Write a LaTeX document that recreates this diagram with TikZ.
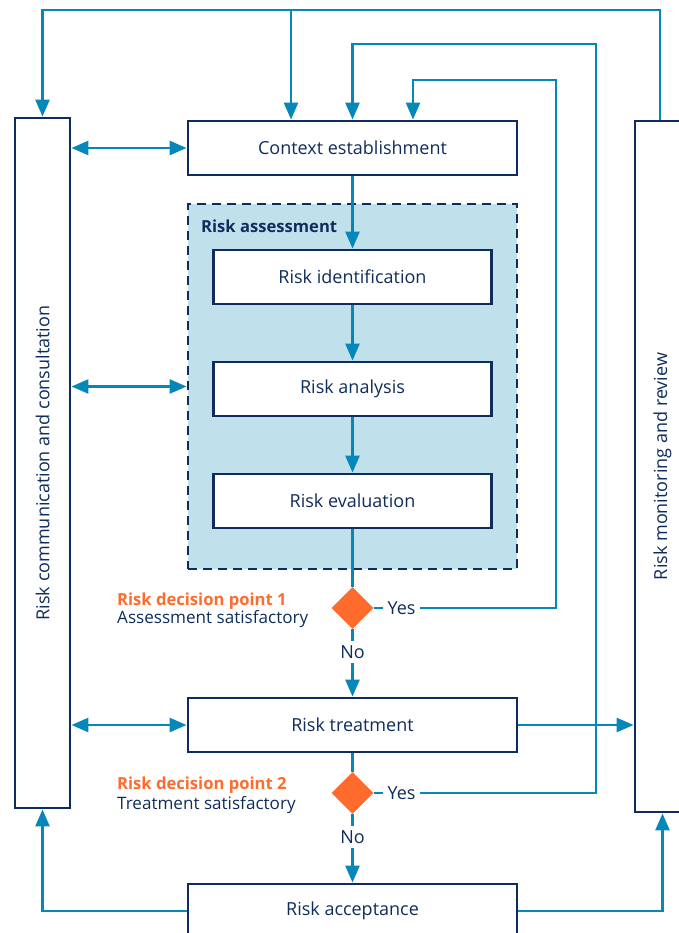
\documentclass[tikz,border=0pt]{standalone}
\usepackage{fontspec}
\setmainfont{Open Sans}
\usetikzlibrary{arrows.meta,shapes.geometric,calc}
\definecolor{navy}{HTML}{0F2D5C}
\definecolor{flowblue}{HTML}{0587B9}
\definecolor{paleblue}{HTML}{C0E0EC}
\definecolor{riskorange}{HTML}{FF6B2C}
\begin{document}
\begin{tikzpicture}[x=1pt,y=-1pt,
  txt/.style={text=navy,font=\fontsize{18}{21}\selectfont},
  smalltxt/.style={text=navy,font=\fontsize{17.1}{20}\selectfont},
  boldtxt/.style={font=\fontsize{16.6}{20}\selectfont\bfseries},
  box/.style={txt,draw=navy,line width=2.9pt,fill=white,minimum height=54pt,inner sep=0},
  wide/.style={box,minimum width=329pt},
  narrow/.style={box,minimum width=278pt},
  side/.style={draw=navy,line width=2.9pt,fill=white,minimum width=55pt,inner sep=0},
  flow/.style={draw=flowblue,line width=2.7pt},
  arr/.style={flow,-{Triangle[length=17pt,width=14pt]}},
  darr/.style={flow,{Triangle[length=17pt,width=14pt]}-{Triangle[length=17pt,width=14pt]}},
  dec/.style={diamond,fill=riskorange,minimum width=42pt,minimum height=42pt,inner sep=0},
  yn/.style={txt,fill=white,inner xsep=5pt,inner ysep=2pt},
]
\useasboundingbox (0,0) rectangle (679,933);
\clip (0,0) rectangle (679,933);

% side boxes
\node[side,minimum height=690pt] (comm) at (42.5,463) {};
\node[txt,rotate=90] (commtxt) at (comm.center) {Risk communication and consultation};
\node[side,minimum height=691pt] (mon) at (662.5,466.5) {};
\node[txt,rotate=90] (montxt) at (mon.center) {Risk monitoring and review};

% risk assessment group
\node[draw=navy,dash pattern=on 9pt off 6pt,fill=paleblue,line width=2.9pt,
      minimum width=329pt,minimum height=365pt,inner sep=0] (assess) at (352.5,386.5) {};
\node[txt,boldtxt,anchor=base west,inner sep=0] (asslbl) at (201,233) {Risk assessment};

% process boxes
\node[wide] (context) at (352.5,148) {Context establishment};
\node[narrow] (ident) at (352.5,277) {Risk identification};
\node[narrow] (analysis) at (352.5,389) {Risk analysis};
\node[narrow] (eval) at (352.5,501) {Risk evaluation};
\node[wide] (treat) at (352.5,725) {Risk treatment};
\node[wide] (accept) at (352.5,911) {Risk acceptance};

% decisions
\node[dec] (d1) at (352.5,608) {};
\node[dec] (d2) at (352.5,793) {};
\node[txt,boldtxt,text=riskorange,anchor=base west,inner sep=0] (dp1) at (117,605) {Risk decision point 1};
\node[smalltxt,anchor=base west,inner sep=0] (dp1b) at (117,623) {Assessment satisfactory};
\node[txt,boldtxt,text=riskorange,anchor=base west,inner sep=0] (dp2) at (117,789) {Risk decision point 2};
\node[smalltxt,anchor=base west,inner sep=0] (dp2b) at (117,809) {Treatment satisfactory};

% coordinates for loops
\coordinate (tR) at (660,10);
\coordinate (tM) at (291,10);
\coordinate (l2) at (596,44);
\coordinate (l3) at (556,80);
\coordinate (l3L) at (413,80);

% outer loop from monitoring
\draw[arr] (tR |- mon.north) -- (tR) -| (comm.north);
\draw[arr] (tM) -- (tM |- context.north);
% loop from decision 2
\draw[arr] (d2.east) -| (l2) -| (context.north);
% loop from decision 1
\draw[arr] (d1.east) -| (l3) -- (l3L) -- (l3L |- context.north);

% main flow
\draw[arr] (context.south) -- (ident.north);
\draw[arr] (ident.south) -- (analysis.north);
\draw[arr] (analysis.south) -- (eval.north);
\draw[flow] (eval.south) -- (d1.north);
\draw[arr] (d1.south) -- (treat.north);
\draw[flow] (treat.south) -- (d2.north);
\draw[arr] (d2.south) -- (accept.north);

% side connectors
\draw[darr] (comm.east |- context.west) -- (context.west);
\draw[darr] (comm.east |- assess.west) -- (assess.west);
\draw[darr] (comm.east |- treat.west) -- (treat.west);
\draw[arr] (treat.east) -- (treat.east -| mon.west);
\draw[arr] (accept.west) -| (comm.south);
\draw[arr] (accept.east) -| (mon.south);

% yes / no labels
\node[yn] (yes1) at (401.5,608) {Yes};
\node[yn] (yes2) at (401.5,793) {Yes};
\node[yn,inner xsep=2pt,inner ysep=4pt] (no1) at (352.5,652) {No};
\node[yn,inner xsep=2pt,inner ysep=4pt] (no2) at (352.5,837) {No};
\end{tikzpicture}
\end{document}
